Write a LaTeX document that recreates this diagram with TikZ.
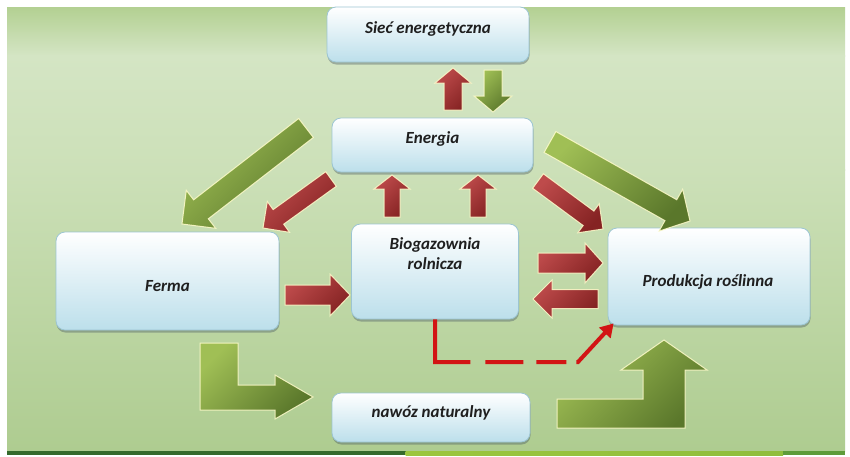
\documentclass[tikz,border=0pt]{standalone}
\usepackage{fontspec}
\setmainfont{Carlito}
\usetikzlibrary{calc,shadows,arrows.meta}
\definecolor{bgT}{HTML}{B3D092}
\definecolor{bgL}{HTML}{D4E5C4}
\definecolor{bgM}{HTML}{CCE0B8}
\definecolor{bgB}{HTML}{AECC90}
\definecolor{redA}{HTML}{BE4B4B}
\definecolor{redB}{HTML}{852323}
\definecolor{grnA}{HTML}{A0BF55}
\definecolor{grnB}{HTML}{5A772B}
\definecolor{boxedge}{HTML}{9CC5D2}
\definecolor{boxbot}{HTML}{BCDFEB}
\definecolor{dashred}{HTML}{D21414}
\definecolor{lineA}{HTML}{356A2C}
\definecolor{lineB}{HTML}{9CC63E}
\definecolor{lineC}{HTML}{5E9C3A}
\newcommand\myfatarrow[6]{%
  \coordinate (fa-h) at ($(#2)!#5!(#1)$);
  \shadedraw[#6] ($(#1)!#3!90:(#2)$) -- ($(fa-h)!#3!-90:(#1)$) -- ($(fa-h)!#4!-90:(#1)$) -- (#2)
    -- ($(fa-h)!#4!90:(#1)$) -- ($(fa-h)!#3!90:(#1)$) -- ($(#1)!#3!-90:(#2)$) -- cycle;
}
\tikzset{
  box/.style={rounded corners=9pt, draw=boxedge, line width=0.8pt, top color=white, bottom color=boxbot,
    inner sep=0pt, drop shadow={shadow xshift=0.5pt, shadow yshift=-2.5pt, opacity=0.4, fill=black!70!cyan}},
  lbl/.style={font=\fontsize{17}{20}\selectfont\bfseries\itshape, text=black!88, align=center,
    inner sep=0pt, text height=12pt, text depth=4pt},
  redarr/.style={top color=redA, bottom color=redB, shading angle=45, draw=white!80!yellow, draw opacity=0.85, line width=1pt},
  grnarr/.style={top color=grnA, bottom color=grnB, shading angle=45, draw=white!80!yellow, draw opacity=0.85, line width=1pt},
}
\begin{document}
\begin{tikzpicture}[x=1pt,y=-1pt]
\useasboundingbox (0,0) rectangle (850,456);
\fill[white] (0,0) rectangle (850,456);
% background
\shade[top color=bgT, bottom color=bgL] (7,7) rectangle (845,56);
\shade[top color=bgL, bottom color=bgM] (7,55.5) rectangle (845,170);
\shade[top color=bgM, bottom color=bgB] (7,169.5) rectangle (845,451);
\fill[lineA] (7,451) rectangle (406,455);
\shade[left color=lineB, right color=lineB!80!lineC] (405.5,451) rectangle (783,455);
\fill[lineC] (782.5,451) rectangle (845,455);

% boxes
\node[box, minimum width=202pt, minimum height=55pt] (siec) at (428,34.5) {};
\node[box, minimum width=201pt, minimum height=54pt] (energia) at (432.5,145) {};
\node[box, minimum width=223pt, minimum height=98pt] (ferma) at (167.5,281) {};
\node[box, minimum width=167pt, minimum height=95pt] (bio) at (435,271.5) {};
\node[box, minimum width=202pt, minimum height=97pt] (prod) at (709,276.5) {};
\node[box, minimum width=198pt, minimum height=49pt] (nawoz) at (431,417.5) {};

% labels
\node[lbl] (siecT) at ($(siec.center)+(0,-5.5)$) {Sieć energetyczna};
\node[lbl] (energiaT) at ($(energia.center)+(0,-6)$) {Energia};
\node[lbl] (fermaT) at ($(ferma.center)+(0,6)$) {Ferma};
\node[lbl] (bioT) at ($(bio.center)+(0,-6.5)$) {Biogazownia\\rolnicza};
\node[lbl] (prodT) at ($(prod.center)+(-1,5.5)$) {Produkcja roślinna};
\node[lbl] (nawozT) at ($(nawoz.center)+(0,-4.5)$) {nawóz naturalny};

% arrow end points
\coordinate (a1s) at (453,110); \coordinate (a1e) at (453,68);
\coordinate (a2s) at (493,70);  \coordinate (a2e) at (493,112);
\coordinate (a3s) at (306,128); \coordinate (a3e) at (182,224);
\coordinate (a4s) at (331,179); \coordinate (a4e) at (263,228);
\coordinate (a5s) at (392,217); \coordinate (a5e) at (392,175);
\coordinate (a6s) at (478,217); \coordinate (a6e) at (478,175);
\coordinate (a7s) at (538,181); \coordinate (a7e) at (603,229);
\coordinate (a8s) at (550,142); \coordinate (a8e) at (690,221);
\coordinate (a9s) at (285,295); \coordinate (a9e) at (350,295);
\coordinate (a10s) at (538,263); \coordinate (a10e) at (603,263);
\coordinate (a11s) at (598,299); \coordinate (a11e) at (533,299);

\myfatarrow{a1s}{a1e}{9pt}{18pt}{15pt}{redarr}
\myfatarrow{a2s}{a2e}{9pt}{19pt}{16pt}{grnarr}
\myfatarrow{a3s}{a3e}{12pt}{24pt}{24pt}{grnarr}
\myfatarrow{a4s}{a4e}{9pt}{19pt}{19pt}{redarr}
\myfatarrow{a5s}{a5e}{8pt}{18pt}{14pt}{redarr}
\myfatarrow{a6s}{a6e}{8pt}{18pt}{14pt}{redarr}
\myfatarrow{a7s}{a7e}{9pt}{18pt}{18pt}{redarr}
\myfatarrow{a8s}{a8e}{12pt}{24pt}{22pt}{grnarr}
\myfatarrow{a9s}{a9e}{10pt}{21pt}{20pt}{redarr}
\myfatarrow{a10s}{a10e}{10pt}{20pt}{18pt}{redarr}
\myfatarrow{a11s}{a11e}{9.5pt}{19pt}{19pt}{redarr}

% L-shaped arrow Ferma -> nawoz
\shadedraw[grnarr] (200,343) -- (238,343) -- (238,385) -- (275,385) -- (275,375) -- (313,397)
  -- (275,419) -- (275,410) -- (200,410) -- cycle;
% bent-up arrow nawoz -> Produkcja
\shadedraw[grnarr] (557,399) -- (643,399) -- (643,370) -- (621,370) -- (664,340) -- (707,370)
  -- (685,370) -- (685,428) -- (557,428) -- cycle;

% dashed red connector
\coordinate (dcorner) at (bio.south |- 0,362);
\coordinate (dturn) at (578,362);
\draw[dashred, line width=4pt, dash pattern=on 78pt off 15pt on 38pt off 13pt on 30pt off 10pt on 100pt,
  -{Triangle[length=13pt,width=15pt]}] (bio.south) -- (dcorner) -- (dturn) -- ($(prod.south west)+(6,-2)$);
\end{tikzpicture}
\end{document}
